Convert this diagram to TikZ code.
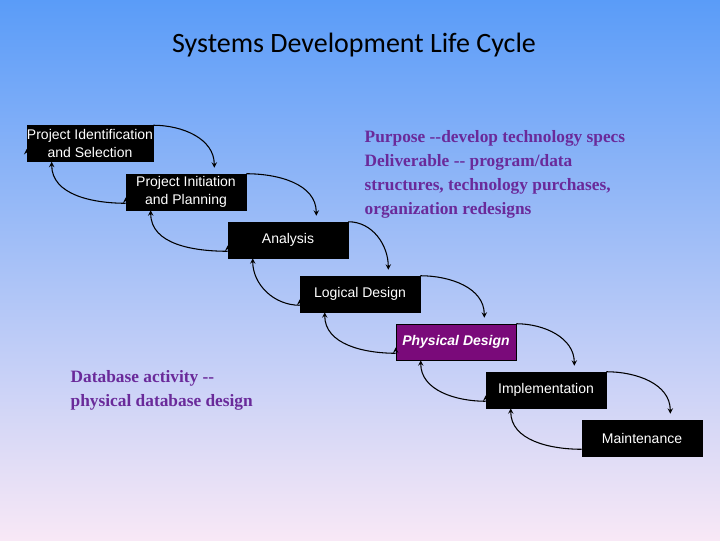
\documentclass[tikz,border=0pt]{standalone}
\usepackage{fontspec}
\setmainfont{Liberation Sans}
\newfontfamily\titlefont{Carlito}
\newfontfamily\notefont{Liberation Serif}
\usetikzlibrary{calc, arrows}
\definecolor{topblue}{HTML}{5A9CF8}
\definecolor{botpink}{HTML}{F8E8F6}
\definecolor{notepurple}{HTML}{6A2A9A}
\definecolor{physpurple}{HTML}{7A0A7A}
\tikzset{
  phase/.style={draw=black, fill=black, text=white, minimum width=90pt, minimum height=27pt,
    inner sep=0pt, align=center, font=\fontsize{10.5}{13}\selectfont},
  fwd/.style={thick, ->, >=stealth},
  back/.style={thick, ->, >=stealth},
  note/.style={text=notepurple, align=left, anchor=north west, font=\notefont\bfseries\fontsize{13}{18}\selectfont}
}
\begin{document}
\begin{tikzpicture}[x=0.75pt, y=-0.75pt]
  \shade[top color=topblue, bottom color=botpink] (0,0) rectangle (720,540);
  \useasboundingbox (0,0) rectangle (720,540);
  \node (title) at (354,45) {\titlefont\fontsize{21}{25}\selectfont Systems Development Life Cycle};
  % phases
  \node[phase] (pis) at (90,143.5) {Project Identification\\and Selection};
  \node[phase] (pip) at (186,192) {Project Initiation\\and Planning};
  \node[phase] (ana) at (288,240) {Analysis};
  \node[phase] (log) at (360,294) {Logical Design};
  \node[phase, fill=physpurple, draw=black, font=\itshape\bfseries\fontsize{10.5}{13}\selectfont] (phy) at (456,342) {Physical Design};
  \node[phase] (imp) at (546,390) {Implementation};
  \node[phase] (mai) at (642,438) {Maintenance};
  % forward arrows
  \foreach \a/\b in {pis/pip, pip/ana, ana/log, log/phy, phy/imp, imp/mai} {
      \draw[fwd] (\a.north east) to[out=0, in=90] ($(\b.north east)+(-32,-6)$);
  }
  % back arrows
  \foreach \a/\b in {pip/pis, ana/pip, log/ana, phy/log, imp/phy, mai/imp} {
      \draw[back] ($(\b.south west)!0.7!(\b.west)+(0,0)$) ++(0,0) coordinate (tmp);
      \draw[back] ($(\a.south west)+(0,-7)$) to[out=180, in=-90] ($(\b.south west)+(25,0)$);
  }
  % notes
  \node[note] (purpose) at (360,126) {Purpose --develop technology specs\\Deliverable -- program/data\\structures, technology purchases,\\organization redesigns};
  \node[note] (dbact) at (66,366) {Database activity --\\physical database design};
\end{tikzpicture}
\end{document}
